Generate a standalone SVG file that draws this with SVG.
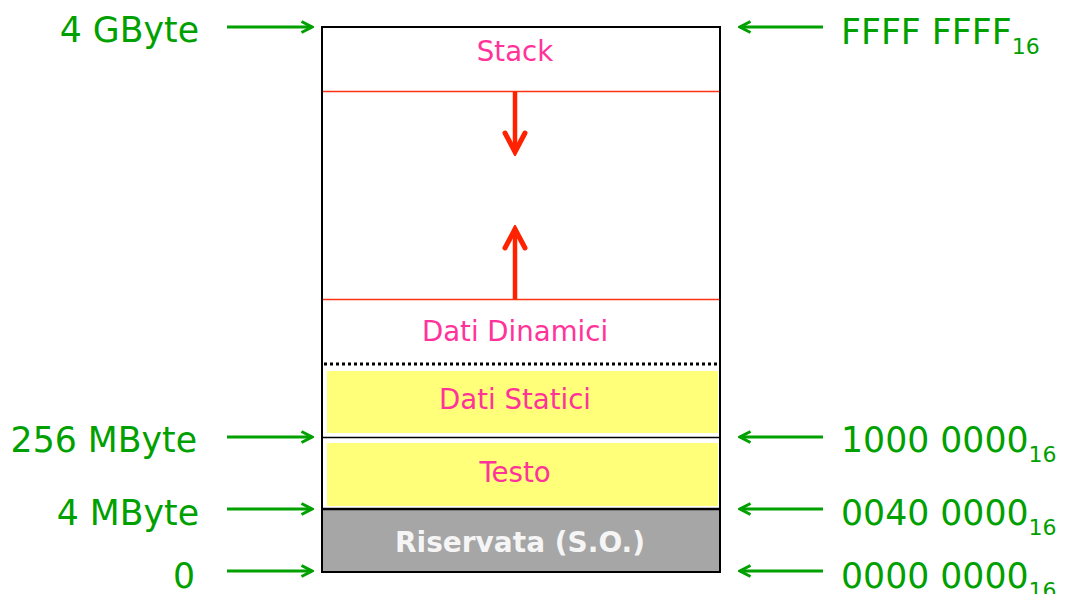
<svg xmlns="http://www.w3.org/2000/svg" width="1065" height="594" viewBox="0 0 1065 594">
  <style>
    .lbl { font-family: "DejaVu Sans", Verdana, sans-serif; fill: #00a000; font-size: 34.7px; }
    .sub { font-size: 22px; }
    .seg { font-family: "DejaVu Sans", Verdana, sans-serif; fill: #ff3399; font-size: 27.6px; text-anchor: middle; }
    .gptr { stroke: #00a000; stroke-width: 3; fill: none; marker-end: url(#gh); }
    .grow { stroke: #ff2200; stroke-width: 4.5; fill: none; marker-end: url(#rh); }
  </style>
  <defs>
    <marker id="gh" viewBox="0 0 14 14" refX="12" refY="7" markerWidth="14" markerHeight="14" markerUnits="userSpaceOnUse" orient="auto">
      <path d="M1.5,1.5 L12,7 L1.5,12.5" fill="none" stroke="#00a000" stroke-width="3"/>
    </marker>
    <marker id="rh" viewBox="0 0 26 26" refX="22" refY="13" markerWidth="26" markerHeight="26" markerUnits="userSpaceOnUse" orient="auto">
      <path d="M3,3 L22,13 L3,23" fill="none" stroke="#ff2200" stroke-width="5" stroke-linecap="round"/>
    </marker>
  </defs>

  <!-- memory column -->
  <g id="memory">
    <rect x="322" y="27" width="398" height="545" fill="#ffffff"/>
    <g id="stack">
      <line x1="322" y1="91.5" x2="720" y2="91.5" stroke="#ff3311" stroke-width="1.5"/>
      <text class="seg" x="515" y="61">Stack</text>
    </g>
    <g id="dati-dinamici">
      <line x1="322" y1="299.5" x2="720" y2="299.5" stroke="#ff3311" stroke-width="1.5"/>
      <text class="seg" x="515" y="341">Dati Dinamici</text>
      <line x1="324" y1="364" x2="720" y2="364" stroke="#000" stroke-width="3" stroke-dasharray="3,3"/>
    </g>
    <g id="dati-statici">
      <rect x="327" y="371" width="391" height="62" fill="#ffff7a"/>
      <text class="seg" x="515" y="409">Dati Statici</text>
      <line x1="322" y1="437.5" x2="720" y2="437.5" stroke="#000" stroke-width="1.5"/>
    </g>
    <g id="testo">
      <rect x="327" y="443" width="391" height="63" fill="#ffff7a"/>
      <text class="seg" x="515" y="482">Testo</text>
    </g>
    <g id="riservata">
      <rect x="322" y="509" width="398" height="63" fill="#a6a6a6"/>
      <line x1="322" y1="509" x2="720" y2="509" stroke="#000" stroke-width="2.5"/>
      <text x="520" y="552" font-family="DejaVu Sans, Verdana, sans-serif" font-weight="bold" font-size="28" fill="#f5f5f5" text-anchor="middle">Riservata (S.O.)</text>
    </g>
    <rect x="322" y="27" width="398" height="545" fill="none" stroke="#000" stroke-width="2"/>
  </g>

  <!-- address labels -->
  <g id="left-labels">
    <text class="lbl" x="199" y="42" text-anchor="end">4 GByte</text>
    <text class="lbl" x="197" y="452" text-anchor="end">256 MByte</text>
    <text class="lbl" x="199" y="525" text-anchor="end">4 MByte</text>
    <text class="lbl" x="195" y="588" text-anchor="end">0</text>
  </g>
  <g id="right-labels">
    <text class="lbl" x="841" y="44">FFFF FFFF<tspan class="sub" dy="10">16</tspan></text>
    <text class="lbl" x="841" y="452">1000 0000<tspan class="sub" dy="10">16</tspan></text>
    <text class="lbl" x="841" y="525">0040 0000<tspan class="sub" dy="10">16</tspan></text>
    <text class="lbl" x="841" y="588">0000 0000<tspan class="sub" dy="10">16</tspan></text>
  </g>

  <!-- connectors -->
  <g id="connectors">
    <line class="grow" x1="515" y1="92" x2="515" y2="152"/>
    <line class="grow" x1="515" y1="299" x2="515" y2="229"/>
    <line class="gptr" x1="227" y1="27" x2="312" y2="27"/>
    <line class="gptr" x1="227" y1="437" x2="312" y2="437"/>
    <line class="gptr" x1="227" y1="509" x2="312" y2="509"/>
    <line class="gptr" x1="227" y1="571" x2="312" y2="571"/>
    <line class="gptr" x1="823" y1="27" x2="740" y2="27"/>
    <line class="gptr" x1="823" y1="437" x2="740" y2="437"/>
    <line class="gptr" x1="823" y1="509" x2="740" y2="509"/>
    <line class="gptr" x1="823" y1="571" x2="740" y2="571"/>
  </g>
</svg>
